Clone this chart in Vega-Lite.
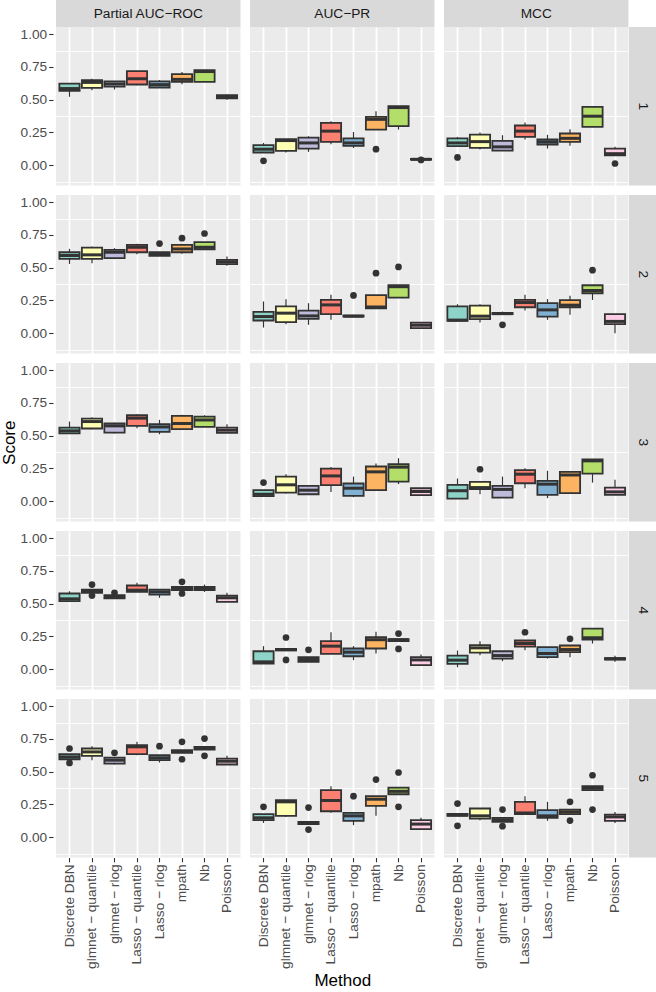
{
"$schema":"https://vega.github.io/schema/vega-lite/v6.json",
"padding":0,
"background":"white",
"config":{"font":"Liberation Sans","view":{"fill":"#EBEBEB","stroke":null},"axis":{"labelFont":"Liberation Sans","titleFont":"Liberation Sans"},"text":{"font":"Liberation Sans"}},
"datasets":{
"boxes":[
{"metric":"Partial AUC−ROC","run":1,"method":"Discrete DBN","lo":0.522,"q1":0.567,"med":0.585,"q3":0.623,"hi":0.625},
{"metric":"Partial AUC−ROC","run":1,"method":"glmnet − quantile","lo":0.573,"q1":0.59,"med":0.632,"q3":0.65,"hi":0.66},
{"metric":"Partial AUC−ROC","run":1,"method":"glmnet − rlog","lo":0.578,"q1":0.6,"med":0.62,"q3":0.64,"hi":0.641},
{"metric":"Partial AUC−ROC","run":1,"method":"Lasso − quantile","lo":0.61,"q1":0.616,"med":0.66,"q3":0.718,"hi":0.72},
{"metric":"Partial AUC−ROC","run":1,"method":"Lasso − rlog","lo":0.593,"q1":0.593,"med":0.615,"q3":0.64,"hi":0.65},
{"metric":"Partial AUC−ROC","run":1,"method":"mpath","lo":0.618,"q1":0.636,"med":0.655,"q3":0.695,"hi":0.712},
{"metric":"Partial AUC−ROC","run":1,"method":"Nb","lo":0.636,"q1":0.636,"med":0.715,"q3":0.725,"hi":0.725},
{"metric":"Partial AUC−ROC","run":1,"method":"Poisson","lo":0.5,"q1":0.51,"med":0.52,"q3":0.534,"hi":0.54},
{"metric":"AUC−PR","run":1,"method":"Discrete DBN","lo":0.097,"q1":0.097,"med":0.122,"q3":0.153,"hi":0.17},
{"metric":"AUC−PR","run":1,"method":"glmnet − quantile","lo":0.097,"q1":0.11,"med":0.188,"q3":0.198,"hi":0.2},
{"metric":"AUC−PR","run":1,"method":"glmnet − rlog","lo":0.102,"q1":0.127,"med":0.17,"q3":0.211,"hi":0.221},
{"metric":"AUC−PR","run":1,"method":"Lasso − quantile","lo":0.16,"q1":0.178,"med":0.26,"q3":0.323,"hi":0.336},
{"metric":"AUC−PR","run":1,"method":"Lasso − rlog","lo":0.132,"q1":0.148,"med":0.17,"q3":0.204,"hi":0.254},
{"metric":"AUC−PR","run":1,"method":"mpath","lo":0.272,"q1":0.272,"med":0.35,"q3":0.369,"hi":0.412},
{"metric":"AUC−PR","run":1,"method":"Nb","lo":0.272,"q1":0.298,"med":0.44,"q3":0.45,"hi":0.45},
{"metric":"AUC−PR","run":1,"method":"Poisson","lo":0.042,"q1":0.042,"med":0.045,"q3":0.048,"hi":0.048},
{"metric":"MCC","run":1,"method":"Discrete DBN","lo":0.145,"q1":0.145,"med":0.17,"q3":0.204,"hi":0.216},
{"metric":"MCC","run":1,"method":"glmnet − quantile","lo":0.12,"q1":0.132,"med":0.18,"q3":0.234,"hi":0.249},
{"metric":"MCC","run":1,"method":"glmnet − rlog","lo":0.112,"q1":0.112,"med":0.14,"q3":0.186,"hi":0.229},
{"metric":"MCC","run":1,"method":"Lasso − quantile","lo":0.196,"q1":0.216,"med":0.26,"q3":0.303,"hi":0.326},
{"metric":"MCC","run":1,"method":"Lasso − rlog","lo":0.127,"q1":0.158,"med":0.178,"q3":0.196,"hi":0.232},
{"metric":"MCC","run":1,"method":"mpath","lo":0.148,"q1":0.178,"med":0.205,"q3":0.242,"hi":0.275},
{"metric":"MCC","run":1,"method":"Nb","lo":0.293,"q1":0.293,"med":0.374,"q3":0.445,"hi":0.445},
{"metric":"MCC","run":1,"method":"Poisson","lo":0.076,"q1":0.076,"med":0.088,"q3":0.127,"hi":0.14},
{"metric":"Partial AUC−ROC","run":2,"method":"Discrete DBN","lo":0.529,"q1":0.567,"med":0.593,"q3":0.618,"hi":0.644},
{"metric":"Partial AUC−ROC","run":2,"method":"glmnet − quantile","lo":0.534,"q1":0.567,"med":0.598,"q3":0.654,"hi":0.662},
{"metric":"Partial AUC−ROC","run":2,"method":"glmnet − rlog","lo":0.565,"q1":0.573,"med":0.618,"q3":0.636,"hi":0.649},
{"metric":"Partial AUC−ROC","run":2,"method":"Lasso − quantile","lo":0.603,"q1":0.618,"med":0.656,"q3":0.674,"hi":0.682},
{"metric":"Partial AUC−ROC","run":2,"method":"Lasso − rlog","lo":0.59,"q1":0.59,"med":0.605,"q3":0.618,"hi":0.618},
{"metric":"Partial AUC−ROC","run":2,"method":"mpath","lo":0.606,"q1":0.618,"med":0.643,"q3":0.674,"hi":0.682},
{"metric":"Partial AUC−ROC","run":2,"method":"Nb","lo":0.641,"q1":0.641,"med":0.656,"q3":0.695,"hi":0.695},
{"metric":"Partial AUC−ROC","run":2,"method":"Poisson","lo":0.514,"q1":0.527,"med":0.544,"q3":0.56,"hi":0.585},
{"metric":"AUC−PR","run":2,"method":"Discrete DBN","lo":0.043,"q1":0.097,"med":0.127,"q3":0.163,"hi":0.242},
{"metric":"AUC−PR","run":2,"method":"glmnet − quantile","lo":0.069,"q1":0.084,"med":0.153,"q3":0.204,"hi":0.26},
{"metric":"AUC−PR","run":2,"method":"glmnet − rlog","lo":0.064,"q1":0.109,"med":0.132,"q3":0.173,"hi":0.229},
{"metric":"AUC−PR","run":2,"method":"Lasso − quantile","lo":0.102,"q1":0.145,"med":0.216,"q3":0.254,"hi":0.293},
{"metric":"AUC−PR","run":2,"method":"Lasso − rlog","lo":0.127,"q1":0.127,"med":0.13,"q3":0.135,"hi":0.135},
{"metric":"AUC−PR","run":2,"method":"mpath","lo":0.19,"q1":0.19,"med":0.2,"q3":0.29,"hi":0.29},
{"metric":"AUC−PR","run":2,"method":"Nb","lo":0.272,"q1":0.272,"med":0.355,"q3":0.366,"hi":0.366},
{"metric":"AUC−PR","run":2,"method":"Poisson","lo":0.038,"q1":0.038,"med":0.061,"q3":0.081,"hi":0.081},
{"metric":"MCC","run":2,"method":"Discrete DBN","lo":0.094,"q1":0.094,"med":0.1,"q3":0.204,"hi":0.221},
{"metric":"MCC","run":2,"method":"glmnet − quantile","lo":0.081,"q1":0.107,"med":0.13,"q3":0.211,"hi":0.221},
{"metric":"MCC","run":2,"method":"glmnet − rlog","lo":0.145,"q1":0.145,"med":0.15,"q3":0.155,"hi":0.165},
{"metric":"MCC","run":2,"method":"Lasso − quantile","lo":0.173,"q1":0.198,"med":0.234,"q3":0.254,"hi":0.293},
{"metric":"MCC","run":2,"method":"Lasso − rlog","lo":0.102,"q1":0.127,"med":0.178,"q3":0.229,"hi":0.26},
{"metric":"MCC","run":2,"method":"mpath","lo":0.14,"q1":0.198,"med":0.214,"q3":0.252,"hi":0.285},
{"metric":"MCC","run":2,"method":"Nb","lo":0.254,"q1":0.305,"med":0.326,"q3":0.366,"hi":0.366},
{"metric":"MCC","run":2,"method":"Poisson","lo":0.0,"q1":0.069,"med":0.09,"q3":0.145,"hi":0.145},
{"metric":"Partial AUC−ROC","run":3,"method":"Discrete DBN","lo":0.517,"q1":0.517,"med":0.537,"q3":0.562,"hi":0.608},
{"metric":"Partial AUC−ROC","run":3,"method":"glmnet − quantile","lo":0.55,"q1":0.555,"med":0.608,"q3":0.631,"hi":0.64},
{"metric":"Partial AUC−ROC","run":3,"method":"glmnet − rlog","lo":0.517,"q1":0.524,"med":0.575,"q3":0.593,"hi":0.6},
{"metric":"Partial AUC−ROC","run":3,"method":"Lasso − quantile","lo":0.557,"q1":0.575,"med":0.634,"q3":0.656,"hi":0.664},
{"metric":"Partial AUC−ROC","run":3,"method":"Lasso − rlog","lo":0.511,"q1":0.529,"med":0.567,"q3":0.588,"hi":0.621},
{"metric":"Partial AUC−ROC","run":3,"method":"mpath","lo":0.55,"q1":0.55,"med":0.593,"q3":0.651,"hi":0.659},
{"metric":"Partial AUC−ROC","run":3,"method":"Nb","lo":0.567,"q1":0.567,"med":0.62,"q3":0.646,"hi":0.656},
{"metric":"Partial AUC−ROC","run":3,"method":"Poisson","lo":0.522,"q1":0.522,"med":0.542,"q3":0.562,"hi":0.588},
{"metric":"AUC−PR","run":3,"method":"Discrete DBN","lo":0.038,"q1":0.038,"med":0.053,"q3":0.084,"hi":0.084},
{"metric":"AUC−PR","run":3,"method":"glmnet − quantile","lo":0.058,"q1":0.066,"med":0.125,"q3":0.188,"hi":0.206},
{"metric":"AUC−PR","run":3,"method":"glmnet − rlog","lo":0.053,"q1":0.053,"med":0.084,"q3":0.117,"hi":0.117},
{"metric":"AUC−PR","run":3,"method":"Lasso − quantile","lo":0.071,"q1":0.122,"med":0.193,"q3":0.249,"hi":0.262},
{"metric":"AUC−PR","run":3,"method":"Lasso − rlog","lo":0.03,"q1":0.041,"med":0.099,"q3":0.135,"hi":0.188},
{"metric":"AUC−PR","run":3,"method":"mpath","lo":0.084,"q1":0.084,"med":0.224,"q3":0.265,"hi":0.288},
{"metric":"AUC−PR","run":3,"method":"Nb","lo":0.13,"q1":0.15,"med":0.26,"q3":0.282,"hi":0.328},
{"metric":"AUC−PR","run":3,"method":"Poisson","lo":0.046,"q1":0.046,"med":0.074,"q3":0.099,"hi":0.099},
{"metric":"MCC","run":3,"method":"Discrete DBN","lo":0.02,"q1":0.02,"med":0.08,"q3":0.125,"hi":0.173},
{"metric":"MCC","run":3,"method":"glmnet − quantile","lo":0.053,"q1":0.092,"med":0.104,"q3":0.148,"hi":0.148},
{"metric":"MCC","run":3,"method":"glmnet − rlog","lo":0.028,"q1":0.028,"med":0.09,"q3":0.117,"hi":0.188},
{"metric":"MCC","run":3,"method":"Lasso − quantile","lo":0.099,"q1":0.137,"med":0.206,"q3":0.237,"hi":0.252},
{"metric":"MCC","run":3,"method":"Lasso − rlog","lo":0.023,"q1":0.048,"med":0.13,"q3":0.155,"hi":0.232},
{"metric":"MCC","run":3,"method":"mpath","lo":0.061,"q1":0.061,"med":0.2,"q3":0.224,"hi":0.224},
{"metric":"MCC","run":3,"method":"Nb","lo":0.142,"q1":0.211,"med":0.308,"q3":0.32,"hi":0.32},
{"metric":"MCC","run":3,"method":"Poisson","lo":0.048,"q1":0.048,"med":0.071,"q3":0.104,"hi":0.163},
{"metric":"Partial AUC−ROC","run":4,"method":"Discrete DBN","lo":0.519,"q1":0.519,"med":0.537,"q3":0.578,"hi":0.595},
{"metric":"Partial AUC−ROC","run":4,"method":"glmnet − quantile","lo":0.583,"q1":0.583,"med":0.595,"q3":0.608,"hi":0.608},
{"metric":"Partial AUC−ROC","run":4,"method":"glmnet − rlog","lo":0.54,"q1":0.54,"med":0.55,"q3":0.565,"hi":0.565},
{"metric":"Partial AUC−ROC","run":4,"method":"Lasso − quantile","lo":0.59,"q1":0.59,"med":0.603,"q3":0.639,"hi":0.659},
{"metric":"Partial AUC−ROC","run":4,"method":"Lasso − rlog","lo":0.545,"q1":0.57,"med":0.59,"q3":0.608,"hi":0.608},
{"metric":"Partial AUC−ROC","run":4,"method":"mpath","lo":0.603,"q1":0.603,"med":0.616,"q3":0.628,"hi":0.628},
{"metric":"Partial AUC−ROC","run":4,"method":"Nb","lo":0.59,"q1":0.603,"med":0.616,"q3":0.628,"hi":0.646},
{"metric":"Partial AUC−ROC","run":4,"method":"Poisson","lo":0.514,"q1":0.514,"med":0.545,"q3":0.562,"hi":0.583},
{"metric":"AUC−PR","run":4,"method":"Discrete DBN","lo":0.043,"q1":0.043,"med":0.056,"q3":0.137,"hi":0.176},
{"metric":"AUC−PR","run":4,"method":"glmnet − quantile","lo":0.143,"q1":0.143,"med":0.15,"q3":0.155,"hi":0.155},
{"metric":"AUC−PR","run":4,"method":"glmnet − rlog","lo":0.056,"q1":0.056,"med":0.074,"q3":0.092,"hi":0.092},
{"metric":"AUC−PR","run":4,"method":"Lasso − quantile","lo":0.117,"q1":0.117,"med":0.176,"q3":0.214,"hi":0.282},
{"metric":"AUC−PR","run":4,"method":"Lasso − rlog","lo":0.069,"q1":0.099,"med":0.13,"q3":0.158,"hi":0.176},
{"metric":"AUC−PR","run":4,"method":"mpath","lo":0.12,"q1":0.158,"med":0.225,"q3":0.244,"hi":0.285},
{"metric":"AUC−PR","run":4,"method":"Nb","lo":0.214,"q1":0.214,"med":0.224,"q3":0.229,"hi":0.229},
{"metric":"AUC−PR","run":4,"method":"Poisson","lo":0.031,"q1":0.031,"med":0.071,"q3":0.092,"hi":0.112},
{"metric":"MCC","run":4,"method":"Discrete DBN","lo":0.015,"q1":0.041,"med":0.069,"q3":0.104,"hi":0.142},
{"metric":"MCC","run":4,"method":"glmnet − quantile","lo":0.107,"q1":0.127,"med":0.163,"q3":0.183,"hi":0.214},
{"metric":"MCC","run":4,"method":"glmnet − rlog","lo":0.061,"q1":0.081,"med":0.104,"q3":0.137,"hi":0.137},
{"metric":"MCC","run":4,"method":"Lasso − quantile","lo":0.145,"q1":0.173,"med":0.196,"q3":0.219,"hi":0.219},
{"metric":"MCC","run":4,"method":"Lasso − rlog","lo":0.081,"q1":0.092,"med":0.12,"q3":0.168,"hi":0.168},
{"metric":"MCC","run":4,"method":"mpath","lo":0.092,"q1":0.13,"med":0.15,"q3":0.181,"hi":0.181},
{"metric":"MCC","run":4,"method":"Nb","lo":0.196,"q1":0.226,"med":0.24,"q3":0.31,"hi":0.31},
{"metric":"MCC","run":4,"method":"Poisson","lo":0.056,"q1":0.074,"med":0.079,"q3":0.085,"hi":0.102},
{"metric":"Partial AUC−ROC","run":5,"method":"Discrete DBN","lo":0.595,"q1":0.595,"med":0.613,"q3":0.634,"hi":0.634},
{"metric":"Partial AUC−ROC","run":5,"method":"glmnet − quantile","lo":0.588,"q1":0.621,"med":0.651,"q3":0.677,"hi":0.695},
{"metric":"Partial AUC−ROC","run":5,"method":"glmnet − rlog","lo":0.555,"q1":0.562,"med":0.588,"q3":0.608,"hi":0.608},
{"metric":"Partial AUC−ROC","run":5,"method":"Lasso − quantile","lo":0.626,"q1":0.634,"med":0.69,"q3":0.702,"hi":0.728},
{"metric":"Partial AUC−ROC","run":5,"method":"Lasso − rlog","lo":0.57,"q1":0.588,"med":0.606,"q3":0.626,"hi":0.626},
{"metric":"Partial AUC−ROC","run":5,"method":"mpath","lo":0.644,"q1":0.644,"med":0.654,"q3":0.664,"hi":0.664},
{"metric":"Partial AUC−ROC","run":5,"method":"Nb","lo":0.669,"q1":0.669,"med":0.679,"q3":0.69,"hi":0.69},
{"metric":"Partial AUC−ROC","run":5,"method":"Poisson","lo":0.555,"q1":0.555,"med":0.58,"q3":0.6,"hi":0.621},
{"metric":"AUC−PR","run":5,"method":"Discrete DBN","lo":0.109,"q1":0.13,"med":0.148,"q3":0.176,"hi":0.176},
{"metric":"AUC−PR","run":5,"method":"glmnet − quantile","lo":0.155,"q1":0.163,"med":0.27,"q3":0.282,"hi":0.282},
{"metric":"AUC−PR","run":5,"method":"glmnet − rlog","lo":0.1,"q1":0.1,"med":0.109,"q3":0.117,"hi":0.117},
{"metric":"AUC−PR","run":5,"method":"Lasso − quantile","lo":0.186,"q1":0.198,"med":0.28,"q3":0.359,"hi":0.389},
{"metric":"AUC−PR","run":5,"method":"Lasso − rlog","lo":0.092,"q1":0.125,"med":0.163,"q3":0.186,"hi":0.186},
{"metric":"AUC−PR","run":5,"method":"mpath","lo":0.163,"q1":0.239,"med":0.29,"q3":0.313,"hi":0.313},
{"metric":"AUC−PR","run":5,"method":"Nb","lo":0.328,"q1":0.328,"med":0.35,"q3":0.379,"hi":0.379},
{"metric":"AUC−PR","run":5,"method":"Poisson","lo":0.061,"q1":0.061,"med":0.1,"q3":0.13,"hi":0.148},
{"metric":"MCC","run":5,"method":"Discrete DBN","lo":0.163,"q1":0.163,"med":0.17,"q3":0.178,"hi":0.178},
{"metric":"MCC","run":5,"method":"glmnet − quantile","lo":0.13,"q1":0.142,"med":0.163,"q3":0.219,"hi":0.219},
{"metric":"MCC","run":5,"method":"glmnet − rlog","lo":0.117,"q1":0.117,"med":0.132,"q3":0.148,"hi":0.148},
{"metric":"MCC","run":5,"method":"Lasso − quantile","lo":0.176,"q1":0.176,"med":0.185,"q3":0.27,"hi":0.313},
{"metric":"MCC","run":5,"method":"Lasso − rlog","lo":0.125,"q1":0.148,"med":0.163,"q3":0.206,"hi":0.27},
{"metric":"MCC","run":5,"method":"mpath","lo":0.176,"q1":0.176,"med":0.193,"q3":0.211,"hi":0.211},
{"metric":"MCC","run":5,"method":"Nb","lo":0.359,"q1":0.359,"med":0.375,"q3":0.389,"hi":0.389},
{"metric":"MCC","run":5,"method":"Poisson","lo":0.109,"q1":0.125,"med":0.155,"q3":0.173,"hi":0.193}
],
"outliers":[
{"metric":"AUC−PR","run":1,"method":"Discrete DBN","value":0.033},
{"metric":"AUC−PR","run":1,"method":"mpath","value":0.122},
{"metric":"AUC−PR","run":1,"method":"Poisson","value":0.04},
{"metric":"MCC","run":1,"method":"Discrete DBN","value":0.059},
{"metric":"MCC","run":1,"method":"Poisson","value":0.013},
{"metric":"Partial AUC−ROC","run":2,"method":"Lasso − rlog","value":0.684},
{"metric":"Partial AUC−ROC","run":2,"method":"mpath","value":0.725},
{"metric":"Partial AUC−ROC","run":2,"method":"Nb","value":0.761},
{"metric":"AUC−PR","run":2,"method":"Lasso − rlog","value":0.288},
{"metric":"AUC−PR","run":2,"method":"mpath","value":0.458},
{"metric":"AUC−PR","run":2,"method":"Nb","value":0.506},
{"metric":"MCC","run":2,"method":"glmnet − rlog","value":0.064},
{"metric":"MCC","run":2,"method":"Nb","value":0.481},
{"metric":"AUC−PR","run":3,"method":"Discrete DBN","value":0.142},
{"metric":"MCC","run":3,"method":"glmnet − quantile","value":0.244},
{"metric":"Partial AUC−ROC","run":4,"method":"glmnet − quantile","value":0.646},
{"metric":"Partial AUC−ROC","run":4,"method":"glmnet − quantile","value":0.562},
{"metric":"Partial AUC−ROC","run":4,"method":"glmnet − rlog","value":0.583},
{"metric":"Partial AUC−ROC","run":4,"method":"mpath","value":0.667},
{"metric":"Partial AUC−ROC","run":4,"method":"mpath","value":0.578},
{"metric":"AUC−PR","run":4,"method":"glmnet − quantile","value":0.242},
{"metric":"AUC−PR","run":4,"method":"glmnet − quantile","value":0.071},
{"metric":"AUC−PR","run":4,"method":"glmnet − rlog","value":0.148},
{"metric":"AUC−PR","run":4,"method":"Nb","value":0.272},
{"metric":"AUC−PR","run":4,"method":"Nb","value":0.155},
{"metric":"MCC","run":4,"method":"Lasso − quantile","value":0.282},
{"metric":"MCC","run":4,"method":"mpath","value":0.232},
{"metric":"Partial AUC−ROC","run":5,"method":"Discrete DBN","value":0.677},
{"metric":"Partial AUC−ROC","run":5,"method":"Discrete DBN","value":0.567},
{"metric":"Partial AUC−ROC","run":5,"method":"glmnet − rlog","value":0.644},
{"metric":"Partial AUC−ROC","run":5,"method":"Lasso − rlog","value":0.695},
{"metric":"Partial AUC−ROC","run":5,"method":"mpath","value":0.728},
{"metric":"Partial AUC−ROC","run":5,"method":"mpath","value":0.595},
{"metric":"Partial AUC−ROC","run":5,"method":"Nb","value":0.753},
{"metric":"Partial AUC−ROC","run":5,"method":"Nb","value":0.621},
{"metric":"AUC−PR","run":5,"method":"Discrete DBN","value":0.232},
{"metric":"AUC−PR","run":5,"method":"glmnet − rlog","value":0.226},
{"metric":"AUC−PR","run":5,"method":"glmnet − rlog","value":0.058},
{"metric":"AUC−PR","run":5,"method":"Lasso − rlog","value":0.313},
{"metric":"AUC−PR","run":5,"method":"mpath","value":0.44},
{"metric":"AUC−PR","run":5,"method":"Nb","value":0.494},
{"metric":"AUC−PR","run":5,"method":"Nb","value":0.232},
{"metric":"MCC","run":5,"method":"Discrete DBN","value":0.257},
{"metric":"MCC","run":5,"method":"Discrete DBN","value":0.087},
{"metric":"MCC","run":5,"method":"glmnet − rlog","value":0.211},
{"metric":"MCC","run":5,"method":"glmnet − rlog","value":0.084},
{"metric":"MCC","run":5,"method":"mpath","value":0.27},
{"metric":"MCC","run":5,"method":"mpath","value":0.127},
{"metric":"MCC","run":5,"method":"Nb","value":0.473},
{"metric":"MCC","run":5,"method":"Nb","value":0.211}
]
},
"spacing":0,
"hconcat":[
{"spacing":0,"vconcat":[
 {"width":1,"height":27,"view":{"fill":"#FFFFFF","stroke":null},"data":{"values":[{"label":""}]},"mark":{"type":"text"},"encoding":{"text":{"field":"label","type":"nominal"}}},
 {"spacing":9,"vconcat":[
  {"width":1,"height":158.5,"view":{"fill":"#FFFFFF","stroke":null},"data":{"name":"boxes"},"transform":[{"filter":"datum.metric=='Partial AUC−ROC' && datum.run==1"}],"mark":{"type":"point","opacity":0},"encoding":{"y":{"field":"med","type":"quantitative","scale":{"domain":[-0.155,1.055],"nice":false,"zero":false},"title":"Score","axis":{"values":[0,0.25,0.5,0.75,1],"format":".2f","grid":false,"domain":false,"offset":-1,"tickSize":4.3,"tickWidth":1.1,"tickColor":"#333333","labelPadding":2,"labelColor":"#4D4D4D","labelFontSize":13.7,"titleFontSize":17,"titleFontWeight":"normal","titleColor":"#000000","titlePadding":2,"titleOpacity":0}}}},
  {"width":1,"height":158.5,"view":{"fill":"#FFFFFF","stroke":null},"data":{"name":"boxes"},"transform":[{"filter":"datum.metric=='Partial AUC−ROC' && datum.run==2"}],"mark":{"type":"point","opacity":0},"encoding":{"y":{"field":"med","type":"quantitative","scale":{"domain":[-0.155,1.055],"nice":false,"zero":false},"title":"Score","axis":{"values":[0,0.25,0.5,0.75,1],"format":".2f","grid":false,"domain":false,"offset":-1,"tickSize":4.3,"tickWidth":1.1,"tickColor":"#333333","labelPadding":2,"labelColor":"#4D4D4D","labelFontSize":13.7,"titleFontSize":17,"titleFontWeight":"normal","titleColor":"#000000","titlePadding":2,"titleOpacity":0}}}},
  {"width":1,"height":158.5,"view":{"fill":"#FFFFFF","stroke":null},"data":{"name":"boxes"},"transform":[{"filter":"datum.metric=='Partial AUC−ROC' && datum.run==3"}],"mark":{"type":"point","opacity":0},"encoding":{"y":{"field":"med","type":"quantitative","scale":{"domain":[-0.155,1.055],"nice":false,"zero":false},"title":"Score","axis":{"values":[0,0.25,0.5,0.75,1],"format":".2f","grid":false,"domain":false,"offset":-1,"tickSize":4.3,"tickWidth":1.1,"tickColor":"#333333","labelPadding":2,"labelColor":"#4D4D4D","labelFontSize":13.7,"titleFontSize":17,"titleFontWeight":"normal","titleColor":"#000000","titlePadding":2,"titleOpacity":1}}}},
  {"width":1,"height":158.5,"view":{"fill":"#FFFFFF","stroke":null},"data":{"name":"boxes"},"transform":[{"filter":"datum.metric=='Partial AUC−ROC' && datum.run==4"}],"mark":{"type":"point","opacity":0},"encoding":{"y":{"field":"med","type":"quantitative","scale":{"domain":[-0.155,1.055],"nice":false,"zero":false},"title":"Score","axis":{"values":[0,0.25,0.5,0.75,1],"format":".2f","grid":false,"domain":false,"offset":-1,"tickSize":4.3,"tickWidth":1.1,"tickColor":"#333333","labelPadding":2,"labelColor":"#4D4D4D","labelFontSize":13.7,"titleFontSize":17,"titleFontWeight":"normal","titleColor":"#000000","titlePadding":2,"titleOpacity":0}}}},
  {"width":1,"height":158.5,"view":{"fill":"#FFFFFF","stroke":null},"data":{"name":"boxes"},"transform":[{"filter":"datum.metric=='Partial AUC−ROC' && datum.run==5"}],"mark":{"type":"point","opacity":0},"encoding":{"y":{"field":"med","type":"quantitative","scale":{"domain":[-0.155,1.055],"nice":false,"zero":false},"title":"Score","axis":{"values":[0,0.25,0.5,0.75,1],"format":".2f","grid":false,"domain":false,"offset":-1,"tickSize":4.3,"tickWidth":1.1,"tickColor":"#333333","labelPadding":2,"labelColor":"#4D4D4D","labelFontSize":13.7,"titleFontSize":17,"titleFontWeight":"normal","titleColor":"#000000","titlePadding":2,"titleOpacity":0}}}}
 ]}
]},
{"spacing":9,"hconcat":[
 {"spacing":0,"vconcat":[
  {"width":184.5,"height":27,"view":{"fill":"#D9D9D9","stroke":null},"data":{"values":[{"label":"Partial AUC−ROC"}]},"mark":{"type":"text","fontSize":13.7,"color":"#1A1A1A"},"encoding":{"text":{"field":"label","type":"nominal"}}},
  {"spacing":9,"vconcat":[
   {"width":184.5,"height":158.5,"data":{"name":"boxes"},"transform":[{"filter":"datum.metric=='Partial AUC−ROC' && datum.run==1"}],
    "encoding":{"x":{"field":"method","type":"nominal","title":null,"scale":{"domain":["Discrete DBN","glmnet − quantile","glmnet − rlog","Lasso − quantile","Lasso − rlog","mpath","Nb","Poisson"],"paddingInner":0.1,"paddingOuter":0.15},"axis":{"labels":false,"ticks":false,"domain":false,"grid":true,"gridColor":"#FFFFFF","gridWidth":1.8,"bandPosition":0.5}}},
    "layer":[
     {"mark":{"type":"rule","color":"#333333","strokeWidth":1.2},"encoding":{"y":{"field":"lo","type":"quantitative","title":null,"scale":{"domain":[-0.155,1.055],"nice":false,"zero":false},"axis":{"values":[-0.125,0,0.125,0.25,0.375,0.5,0.625,0.75,0.875,1],"labels":false,"ticks":false,"domain":false,"grid":true,"gridColor":"#FFFFFF","gridWidth":{"condition":{"test":"abs(datum.value*4-round(datum.value*4))>0.01","value":0.9},"value":1.8}}},"y2":{"field":"hi"}}},
     {"mark":{"type":"bar","stroke":"#333333","strokeWidth":1.8},"encoding":{"y":{"field":"q1","type":"quantitative","title":null,"scale":{"domain":[-0.155,1.055],"nice":false,"zero":false}},"y2":{"field":"q3"},"fill":{"field":"method","type":"nominal","legend":null,"scale":{"domain":["Discrete DBN","glmnet − quantile","glmnet − rlog","Lasso − quantile","Lasso − rlog","mpath","Nb","Poisson"],"range":["#8DD3C7","#FFFFB3","#BEBADA","#FB8072","#80B1D3","#FDB462","#B3DE69","#FCCDE5"]}}}},
     {"mark":{"type":"tick","color":"#333333","thickness":3,"opacity":1},"encoding":{"y":{"field":"med","type":"quantitative","title":null,"scale":{"domain":[-0.155,1.055],"nice":false,"zero":false}},"size":{"value":20}}},
     {"data":{"name":"outliers"},"transform":[{"filter":"datum.metric=='Partial AUC−ROC' && datum.run==1"}],"mark":{"type":"point","filled":true,"color":"#333333","opacity":1,"size":45},"encoding":{"y":{"field":"value","type":"quantitative","title":null,"scale":{"domain":[-0.155,1.055],"nice":false,"zero":false}}}}
    ]},
   {"width":184.5,"height":158.5,"data":{"name":"boxes"},"transform":[{"filter":"datum.metric=='Partial AUC−ROC' && datum.run==2"}],
    "encoding":{"x":{"field":"method","type":"nominal","title":null,"scale":{"domain":["Discrete DBN","glmnet − quantile","glmnet − rlog","Lasso − quantile","Lasso − rlog","mpath","Nb","Poisson"],"paddingInner":0.1,"paddingOuter":0.15},"axis":{"labels":false,"ticks":false,"domain":false,"grid":true,"gridColor":"#FFFFFF","gridWidth":1.8,"bandPosition":0.5}}},
    "layer":[
     {"mark":{"type":"rule","color":"#333333","strokeWidth":1.2},"encoding":{"y":{"field":"lo","type":"quantitative","title":null,"scale":{"domain":[-0.155,1.055],"nice":false,"zero":false},"axis":{"values":[-0.125,0,0.125,0.25,0.375,0.5,0.625,0.75,0.875,1],"labels":false,"ticks":false,"domain":false,"grid":true,"gridColor":"#FFFFFF","gridWidth":{"condition":{"test":"abs(datum.value*4-round(datum.value*4))>0.01","value":0.9},"value":1.8}}},"y2":{"field":"hi"}}},
     {"mark":{"type":"bar","stroke":"#333333","strokeWidth":1.8},"encoding":{"y":{"field":"q1","type":"quantitative","title":null,"scale":{"domain":[-0.155,1.055],"nice":false,"zero":false}},"y2":{"field":"q3"},"fill":{"field":"method","type":"nominal","legend":null,"scale":{"domain":["Discrete DBN","glmnet − quantile","glmnet − rlog","Lasso − quantile","Lasso − rlog","mpath","Nb","Poisson"],"range":["#8DD3C7","#FFFFB3","#BEBADA","#FB8072","#80B1D3","#FDB462","#B3DE69","#FCCDE5"]}}}},
     {"mark":{"type":"tick","color":"#333333","thickness":3,"opacity":1},"encoding":{"y":{"field":"med","type":"quantitative","title":null,"scale":{"domain":[-0.155,1.055],"nice":false,"zero":false}},"size":{"value":20}}},
     {"data":{"name":"outliers"},"transform":[{"filter":"datum.metric=='Partial AUC−ROC' && datum.run==2"}],"mark":{"type":"point","filled":true,"color":"#333333","opacity":1,"size":45},"encoding":{"y":{"field":"value","type":"quantitative","title":null,"scale":{"domain":[-0.155,1.055],"nice":false,"zero":false}}}}
    ]},
   {"width":184.5,"height":158.5,"data":{"name":"boxes"},"transform":[{"filter":"datum.metric=='Partial AUC−ROC' && datum.run==3"}],
    "encoding":{"x":{"field":"method","type":"nominal","title":null,"scale":{"domain":["Discrete DBN","glmnet − quantile","glmnet − rlog","Lasso − quantile","Lasso − rlog","mpath","Nb","Poisson"],"paddingInner":0.1,"paddingOuter":0.15},"axis":{"labels":false,"ticks":false,"domain":false,"grid":true,"gridColor":"#FFFFFF","gridWidth":1.8,"bandPosition":0.5}}},
    "layer":[
     {"mark":{"type":"rule","color":"#333333","strokeWidth":1.2},"encoding":{"y":{"field":"lo","type":"quantitative","title":null,"scale":{"domain":[-0.155,1.055],"nice":false,"zero":false},"axis":{"values":[-0.125,0,0.125,0.25,0.375,0.5,0.625,0.75,0.875,1],"labels":false,"ticks":false,"domain":false,"grid":true,"gridColor":"#FFFFFF","gridWidth":{"condition":{"test":"abs(datum.value*4-round(datum.value*4))>0.01","value":0.9},"value":1.8}}},"y2":{"field":"hi"}}},
     {"mark":{"type":"bar","stroke":"#333333","strokeWidth":1.8},"encoding":{"y":{"field":"q1","type":"quantitative","title":null,"scale":{"domain":[-0.155,1.055],"nice":false,"zero":false}},"y2":{"field":"q3"},"fill":{"field":"method","type":"nominal","legend":null,"scale":{"domain":["Discrete DBN","glmnet − quantile","glmnet − rlog","Lasso − quantile","Lasso − rlog","mpath","Nb","Poisson"],"range":["#8DD3C7","#FFFFB3","#BEBADA","#FB8072","#80B1D3","#FDB462","#B3DE69","#FCCDE5"]}}}},
     {"mark":{"type":"tick","color":"#333333","thickness":3,"opacity":1},"encoding":{"y":{"field":"med","type":"quantitative","title":null,"scale":{"domain":[-0.155,1.055],"nice":false,"zero":false}},"size":{"value":20}}},
     {"data":{"name":"outliers"},"transform":[{"filter":"datum.metric=='Partial AUC−ROC' && datum.run==3"}],"mark":{"type":"point","filled":true,"color":"#333333","opacity":1,"size":45},"encoding":{"y":{"field":"value","type":"quantitative","title":null,"scale":{"domain":[-0.155,1.055],"nice":false,"zero":false}}}}
    ]},
   {"width":184.5,"height":158.5,"data":{"name":"boxes"},"transform":[{"filter":"datum.metric=='Partial AUC−ROC' && datum.run==4"}],
    "encoding":{"x":{"field":"method","type":"nominal","title":null,"scale":{"domain":["Discrete DBN","glmnet − quantile","glmnet − rlog","Lasso − quantile","Lasso − rlog","mpath","Nb","Poisson"],"paddingInner":0.1,"paddingOuter":0.15},"axis":{"labels":false,"ticks":false,"domain":false,"grid":true,"gridColor":"#FFFFFF","gridWidth":1.8,"bandPosition":0.5}}},
    "layer":[
     {"mark":{"type":"rule","color":"#333333","strokeWidth":1.2},"encoding":{"y":{"field":"lo","type":"quantitative","title":null,"scale":{"domain":[-0.155,1.055],"nice":false,"zero":false},"axis":{"values":[-0.125,0,0.125,0.25,0.375,0.5,0.625,0.75,0.875,1],"labels":false,"ticks":false,"domain":false,"grid":true,"gridColor":"#FFFFFF","gridWidth":{"condition":{"test":"abs(datum.value*4-round(datum.value*4))>0.01","value":0.9},"value":1.8}}},"y2":{"field":"hi"}}},
     {"mark":{"type":"bar","stroke":"#333333","strokeWidth":1.8},"encoding":{"y":{"field":"q1","type":"quantitative","title":null,"scale":{"domain":[-0.155,1.055],"nice":false,"zero":false}},"y2":{"field":"q3"},"fill":{"field":"method","type":"nominal","legend":null,"scale":{"domain":["Discrete DBN","glmnet − quantile","glmnet − rlog","Lasso − quantile","Lasso − rlog","mpath","Nb","Poisson"],"range":["#8DD3C7","#FFFFB3","#BEBADA","#FB8072","#80B1D3","#FDB462","#B3DE69","#FCCDE5"]}}}},
     {"mark":{"type":"tick","color":"#333333","thickness":3,"opacity":1},"encoding":{"y":{"field":"med","type":"quantitative","title":null,"scale":{"domain":[-0.155,1.055],"nice":false,"zero":false}},"size":{"value":20}}},
     {"data":{"name":"outliers"},"transform":[{"filter":"datum.metric=='Partial AUC−ROC' && datum.run==4"}],"mark":{"type":"point","filled":true,"color":"#333333","opacity":1,"size":45},"encoding":{"y":{"field":"value","type":"quantitative","title":null,"scale":{"domain":[-0.155,1.055],"nice":false,"zero":false}}}}
    ]},
   {"width":184.5,"height":158.5,"data":{"name":"boxes"},"transform":[{"filter":"datum.metric=='Partial AUC−ROC' && datum.run==5"}],
    "encoding":{"x":{"field":"method","type":"nominal","title":null,"scale":{"domain":["Discrete DBN","glmnet − quantile","glmnet − rlog","Lasso − quantile","Lasso − rlog","mpath","Nb","Poisson"],"paddingInner":0.1,"paddingOuter":0.15},"axis":{"labelAngle":270,"labelAlign":"right","labelBaseline":"middle","labelPadding":2,"labelColor":"#4D4D4D","labelFontSize":13.7,"labelOverlap":false,"labelLimit":300,"ticks":true,"tickSize":4.3,"tickWidth":1.1,"tickColor":"#333333","domain":false,"grid":true,"gridColor":"#FFFFFF","gridWidth":1.8,"bandPosition":0.5,"titleFontSize":17,"titleFontWeight":"normal","titleColor":"#000000","titlePadding":4}}},
    "layer":[
     {"mark":{"type":"rule","color":"#333333","strokeWidth":1.2},"encoding":{"y":{"field":"lo","type":"quantitative","title":null,"scale":{"domain":[-0.155,1.055],"nice":false,"zero":false},"axis":{"values":[-0.125,0,0.125,0.25,0.375,0.5,0.625,0.75,0.875,1],"labels":false,"ticks":false,"domain":false,"grid":true,"gridColor":"#FFFFFF","gridWidth":{"condition":{"test":"abs(datum.value*4-round(datum.value*4))>0.01","value":0.9},"value":1.8}}},"y2":{"field":"hi"}}},
     {"mark":{"type":"bar","stroke":"#333333","strokeWidth":1.8},"encoding":{"y":{"field":"q1","type":"quantitative","title":null,"scale":{"domain":[-0.155,1.055],"nice":false,"zero":false}},"y2":{"field":"q3"},"fill":{"field":"method","type":"nominal","legend":null,"scale":{"domain":["Discrete DBN","glmnet − quantile","glmnet − rlog","Lasso − quantile","Lasso − rlog","mpath","Nb","Poisson"],"range":["#8DD3C7","#FFFFB3","#BEBADA","#FB8072","#80B1D3","#FDB462","#B3DE69","#FCCDE5"]}}}},
     {"mark":{"type":"tick","color":"#333333","thickness":3,"opacity":1},"encoding":{"y":{"field":"med","type":"quantitative","title":null,"scale":{"domain":[-0.155,1.055],"nice":false,"zero":false}},"size":{"value":20}}},
     {"data":{"name":"outliers"},"transform":[{"filter":"datum.metric=='Partial AUC−ROC' && datum.run==5"}],"mark":{"type":"point","filled":true,"color":"#333333","opacity":1,"size":45},"encoding":{"y":{"field":"value","type":"quantitative","title":null,"scale":{"domain":[-0.155,1.055],"nice":false,"zero":false}}}}
    ]}
  ]}
 ]},
 {"spacing":0,"vconcat":[
  {"width":184.5,"height":27,"view":{"fill":"#D9D9D9","stroke":null},"data":{"values":[{"label":"AUC−PR"}]},"mark":{"type":"text","fontSize":13.7,"color":"#1A1A1A"},"encoding":{"text":{"field":"label","type":"nominal"}}},
  {"spacing":9,"vconcat":[
   {"width":184.5,"height":158.5,"data":{"name":"boxes"},"transform":[{"filter":"datum.metric=='AUC−PR' && datum.run==1"}],
    "encoding":{"x":{"field":"method","type":"nominal","title":null,"scale":{"domain":["Discrete DBN","glmnet − quantile","glmnet − rlog","Lasso − quantile","Lasso − rlog","mpath","Nb","Poisson"],"paddingInner":0.1,"paddingOuter":0.15},"axis":{"labels":false,"ticks":false,"domain":false,"grid":true,"gridColor":"#FFFFFF","gridWidth":1.8,"bandPosition":0.5}}},
    "layer":[
     {"mark":{"type":"rule","color":"#333333","strokeWidth":1.2},"encoding":{"y":{"field":"lo","type":"quantitative","title":null,"scale":{"domain":[-0.155,1.055],"nice":false,"zero":false},"axis":{"values":[-0.125,0,0.125,0.25,0.375,0.5,0.625,0.75,0.875,1],"labels":false,"ticks":false,"domain":false,"grid":true,"gridColor":"#FFFFFF","gridWidth":{"condition":{"test":"abs(datum.value*4-round(datum.value*4))>0.01","value":0.9},"value":1.8}}},"y2":{"field":"hi"}}},
     {"mark":{"type":"bar","stroke":"#333333","strokeWidth":1.8},"encoding":{"y":{"field":"q1","type":"quantitative","title":null,"scale":{"domain":[-0.155,1.055],"nice":false,"zero":false}},"y2":{"field":"q3"},"fill":{"field":"method","type":"nominal","legend":null,"scale":{"domain":["Discrete DBN","glmnet − quantile","glmnet − rlog","Lasso − quantile","Lasso − rlog","mpath","Nb","Poisson"],"range":["#8DD3C7","#FFFFB3","#BEBADA","#FB8072","#80B1D3","#FDB462","#B3DE69","#FCCDE5"]}}}},
     {"mark":{"type":"tick","color":"#333333","thickness":3,"opacity":1},"encoding":{"y":{"field":"med","type":"quantitative","title":null,"scale":{"domain":[-0.155,1.055],"nice":false,"zero":false}},"size":{"value":20}}},
     {"data":{"name":"outliers"},"transform":[{"filter":"datum.metric=='AUC−PR' && datum.run==1"}],"mark":{"type":"point","filled":true,"color":"#333333","opacity":1,"size":45},"encoding":{"y":{"field":"value","type":"quantitative","title":null,"scale":{"domain":[-0.155,1.055],"nice":false,"zero":false}}}}
    ]},
   {"width":184.5,"height":158.5,"data":{"name":"boxes"},"transform":[{"filter":"datum.metric=='AUC−PR' && datum.run==2"}],
    "encoding":{"x":{"field":"method","type":"nominal","title":null,"scale":{"domain":["Discrete DBN","glmnet − quantile","glmnet − rlog","Lasso − quantile","Lasso − rlog","mpath","Nb","Poisson"],"paddingInner":0.1,"paddingOuter":0.15},"axis":{"labels":false,"ticks":false,"domain":false,"grid":true,"gridColor":"#FFFFFF","gridWidth":1.8,"bandPosition":0.5}}},
    "layer":[
     {"mark":{"type":"rule","color":"#333333","strokeWidth":1.2},"encoding":{"y":{"field":"lo","type":"quantitative","title":null,"scale":{"domain":[-0.155,1.055],"nice":false,"zero":false},"axis":{"values":[-0.125,0,0.125,0.25,0.375,0.5,0.625,0.75,0.875,1],"labels":false,"ticks":false,"domain":false,"grid":true,"gridColor":"#FFFFFF","gridWidth":{"condition":{"test":"abs(datum.value*4-round(datum.value*4))>0.01","value":0.9},"value":1.8}}},"y2":{"field":"hi"}}},
     {"mark":{"type":"bar","stroke":"#333333","strokeWidth":1.8},"encoding":{"y":{"field":"q1","type":"quantitative","title":null,"scale":{"domain":[-0.155,1.055],"nice":false,"zero":false}},"y2":{"field":"q3"},"fill":{"field":"method","type":"nominal","legend":null,"scale":{"domain":["Discrete DBN","glmnet − quantile","glmnet − rlog","Lasso − quantile","Lasso − rlog","mpath","Nb","Poisson"],"range":["#8DD3C7","#FFFFB3","#BEBADA","#FB8072","#80B1D3","#FDB462","#B3DE69","#FCCDE5"]}}}},
     {"mark":{"type":"tick","color":"#333333","thickness":3,"opacity":1},"encoding":{"y":{"field":"med","type":"quantitative","title":null,"scale":{"domain":[-0.155,1.055],"nice":false,"zero":false}},"size":{"value":20}}},
     {"data":{"name":"outliers"},"transform":[{"filter":"datum.metric=='AUC−PR' && datum.run==2"}],"mark":{"type":"point","filled":true,"color":"#333333","opacity":1,"size":45},"encoding":{"y":{"field":"value","type":"quantitative","title":null,"scale":{"domain":[-0.155,1.055],"nice":false,"zero":false}}}}
    ]},
   {"width":184.5,"height":158.5,"data":{"name":"boxes"},"transform":[{"filter":"datum.metric=='AUC−PR' && datum.run==3"}],
    "encoding":{"x":{"field":"method","type":"nominal","title":null,"scale":{"domain":["Discrete DBN","glmnet − quantile","glmnet − rlog","Lasso − quantile","Lasso − rlog","mpath","Nb","Poisson"],"paddingInner":0.1,"paddingOuter":0.15},"axis":{"labels":false,"ticks":false,"domain":false,"grid":true,"gridColor":"#FFFFFF","gridWidth":1.8,"bandPosition":0.5}}},
    "layer":[
     {"mark":{"type":"rule","color":"#333333","strokeWidth":1.2},"encoding":{"y":{"field":"lo","type":"quantitative","title":null,"scale":{"domain":[-0.155,1.055],"nice":false,"zero":false},"axis":{"values":[-0.125,0,0.125,0.25,0.375,0.5,0.625,0.75,0.875,1],"labels":false,"ticks":false,"domain":false,"grid":true,"gridColor":"#FFFFFF","gridWidth":{"condition":{"test":"abs(datum.value*4-round(datum.value*4))>0.01","value":0.9},"value":1.8}}},"y2":{"field":"hi"}}},
     {"mark":{"type":"bar","stroke":"#333333","strokeWidth":1.8},"encoding":{"y":{"field":"q1","type":"quantitative","title":null,"scale":{"domain":[-0.155,1.055],"nice":false,"zero":false}},"y2":{"field":"q3"},"fill":{"field":"method","type":"nominal","legend":null,"scale":{"domain":["Discrete DBN","glmnet − quantile","glmnet − rlog","Lasso − quantile","Lasso − rlog","mpath","Nb","Poisson"],"range":["#8DD3C7","#FFFFB3","#BEBADA","#FB8072","#80B1D3","#FDB462","#B3DE69","#FCCDE5"]}}}},
     {"mark":{"type":"tick","color":"#333333","thickness":3,"opacity":1},"encoding":{"y":{"field":"med","type":"quantitative","title":null,"scale":{"domain":[-0.155,1.055],"nice":false,"zero":false}},"size":{"value":20}}},
     {"data":{"name":"outliers"},"transform":[{"filter":"datum.metric=='AUC−PR' && datum.run==3"}],"mark":{"type":"point","filled":true,"color":"#333333","opacity":1,"size":45},"encoding":{"y":{"field":"value","type":"quantitative","title":null,"scale":{"domain":[-0.155,1.055],"nice":false,"zero":false}}}}
    ]},
   {"width":184.5,"height":158.5,"data":{"name":"boxes"},"transform":[{"filter":"datum.metric=='AUC−PR' && datum.run==4"}],
    "encoding":{"x":{"field":"method","type":"nominal","title":null,"scale":{"domain":["Discrete DBN","glmnet − quantile","glmnet − rlog","Lasso − quantile","Lasso − rlog","mpath","Nb","Poisson"],"paddingInner":0.1,"paddingOuter":0.15},"axis":{"labels":false,"ticks":false,"domain":false,"grid":true,"gridColor":"#FFFFFF","gridWidth":1.8,"bandPosition":0.5}}},
    "layer":[
     {"mark":{"type":"rule","color":"#333333","strokeWidth":1.2},"encoding":{"y":{"field":"lo","type":"quantitative","title":null,"scale":{"domain":[-0.155,1.055],"nice":false,"zero":false},"axis":{"values":[-0.125,0,0.125,0.25,0.375,0.5,0.625,0.75,0.875,1],"labels":false,"ticks":false,"domain":false,"grid":true,"gridColor":"#FFFFFF","gridWidth":{"condition":{"test":"abs(datum.value*4-round(datum.value*4))>0.01","value":0.9},"value":1.8}}},"y2":{"field":"hi"}}},
     {"mark":{"type":"bar","stroke":"#333333","strokeWidth":1.8},"encoding":{"y":{"field":"q1","type":"quantitative","title":null,"scale":{"domain":[-0.155,1.055],"nice":false,"zero":false}},"y2":{"field":"q3"},"fill":{"field":"method","type":"nominal","legend":null,"scale":{"domain":["Discrete DBN","glmnet − quantile","glmnet − rlog","Lasso − quantile","Lasso − rlog","mpath","Nb","Poisson"],"range":["#8DD3C7","#FFFFB3","#BEBADA","#FB8072","#80B1D3","#FDB462","#B3DE69","#FCCDE5"]}}}},
     {"mark":{"type":"tick","color":"#333333","thickness":3,"opacity":1},"encoding":{"y":{"field":"med","type":"quantitative","title":null,"scale":{"domain":[-0.155,1.055],"nice":false,"zero":false}},"size":{"value":20}}},
     {"data":{"name":"outliers"},"transform":[{"filter":"datum.metric=='AUC−PR' && datum.run==4"}],"mark":{"type":"point","filled":true,"color":"#333333","opacity":1,"size":45},"encoding":{"y":{"field":"value","type":"quantitative","title":null,"scale":{"domain":[-0.155,1.055],"nice":false,"zero":false}}}}
    ]},
   {"width":184.5,"height":158.5,"data":{"name":"boxes"},"transform":[{"filter":"datum.metric=='AUC−PR' && datum.run==5"}],
    "encoding":{"x":{"field":"method","type":"nominal","title":"Method","scale":{"domain":["Discrete DBN","glmnet − quantile","glmnet − rlog","Lasso − quantile","Lasso − rlog","mpath","Nb","Poisson"],"paddingInner":0.1,"paddingOuter":0.15},"axis":{"labelAngle":270,"labelAlign":"right","labelBaseline":"middle","labelPadding":2,"labelColor":"#4D4D4D","labelFontSize":13.7,"labelOverlap":false,"labelLimit":300,"ticks":true,"tickSize":4.3,"tickWidth":1.1,"tickColor":"#333333","domain":false,"grid":true,"gridColor":"#FFFFFF","gridWidth":1.8,"bandPosition":0.5,"titleFontSize":17,"titleFontWeight":"normal","titleColor":"#000000","titlePadding":4}}},
    "layer":[
     {"mark":{"type":"rule","color":"#333333","strokeWidth":1.2},"encoding":{"y":{"field":"lo","type":"quantitative","title":null,"scale":{"domain":[-0.155,1.055],"nice":false,"zero":false},"axis":{"values":[-0.125,0,0.125,0.25,0.375,0.5,0.625,0.75,0.875,1],"labels":false,"ticks":false,"domain":false,"grid":true,"gridColor":"#FFFFFF","gridWidth":{"condition":{"test":"abs(datum.value*4-round(datum.value*4))>0.01","value":0.9},"value":1.8}}},"y2":{"field":"hi"}}},
     {"mark":{"type":"bar","stroke":"#333333","strokeWidth":1.8},"encoding":{"y":{"field":"q1","type":"quantitative","title":null,"scale":{"domain":[-0.155,1.055],"nice":false,"zero":false}},"y2":{"field":"q3"},"fill":{"field":"method","type":"nominal","legend":null,"scale":{"domain":["Discrete DBN","glmnet − quantile","glmnet − rlog","Lasso − quantile","Lasso − rlog","mpath","Nb","Poisson"],"range":["#8DD3C7","#FFFFB3","#BEBADA","#FB8072","#80B1D3","#FDB462","#B3DE69","#FCCDE5"]}}}},
     {"mark":{"type":"tick","color":"#333333","thickness":3,"opacity":1},"encoding":{"y":{"field":"med","type":"quantitative","title":null,"scale":{"domain":[-0.155,1.055],"nice":false,"zero":false}},"size":{"value":20}}},
     {"data":{"name":"outliers"},"transform":[{"filter":"datum.metric=='AUC−PR' && datum.run==5"}],"mark":{"type":"point","filled":true,"color":"#333333","opacity":1,"size":45},"encoding":{"y":{"field":"value","type":"quantitative","title":null,"scale":{"domain":[-0.155,1.055],"nice":false,"zero":false}}}}
    ]}
  ]}
 ]},
 {"spacing":0,"hconcat":[
  {"spacing":0,"vconcat":[
   {"width":184.5,"height":27,"view":{"fill":"#D9D9D9","stroke":null},"data":{"values":[{"label":"MCC"}]},"mark":{"type":"text","fontSize":13.7,"color":"#1A1A1A"},"encoding":{"text":{"field":"label","type":"nominal"}}},
   {"spacing":9,"vconcat":[
    {"width":184.5,"height":158.5,"data":{"name":"boxes"},"transform":[{"filter":"datum.metric=='MCC' && datum.run==1"}],
     "encoding":{"x":{"field":"method","type":"nominal","title":null,"scale":{"domain":["Discrete DBN","glmnet − quantile","glmnet − rlog","Lasso − quantile","Lasso − rlog","mpath","Nb","Poisson"],"paddingInner":0.1,"paddingOuter":0.15},"axis":{"labels":false,"ticks":false,"domain":false,"grid":true,"gridColor":"#FFFFFF","gridWidth":1.8,"bandPosition":0.5}}},
     "layer":[
      {"mark":{"type":"rule","color":"#333333","strokeWidth":1.2},"encoding":{"y":{"field":"lo","type":"quantitative","title":null,"scale":{"domain":[-0.155,1.055],"nice":false,"zero":false},"axis":{"values":[-0.125,0,0.125,0.25,0.375,0.5,0.625,0.75,0.875,1],"labels":false,"ticks":false,"domain":false,"grid":true,"gridColor":"#FFFFFF","gridWidth":{"condition":{"test":"abs(datum.value*4-round(datum.value*4))>0.01","value":0.9},"value":1.8}}},"y2":{"field":"hi"}}},
      {"mark":{"type":"bar","stroke":"#333333","strokeWidth":1.8},"encoding":{"y":{"field":"q1","type":"quantitative","title":null,"scale":{"domain":[-0.155,1.055],"nice":false,"zero":false}},"y2":{"field":"q3"},"fill":{"field":"method","type":"nominal","legend":null,"scale":{"domain":["Discrete DBN","glmnet − quantile","glmnet − rlog","Lasso − quantile","Lasso − rlog","mpath","Nb","Poisson"],"range":["#8DD3C7","#FFFFB3","#BEBADA","#FB8072","#80B1D3","#FDB462","#B3DE69","#FCCDE5"]}}}},
      {"mark":{"type":"tick","color":"#333333","thickness":3,"opacity":1},"encoding":{"y":{"field":"med","type":"quantitative","title":null,"scale":{"domain":[-0.155,1.055],"nice":false,"zero":false}},"size":{"value":20}}},
      {"data":{"name":"outliers"},"transform":[{"filter":"datum.metric=='MCC' && datum.run==1"}],"mark":{"type":"point","filled":true,"color":"#333333","opacity":1,"size":45},"encoding":{"y":{"field":"value","type":"quantitative","title":null,"scale":{"domain":[-0.155,1.055],"nice":false,"zero":false}}}}
     ]},
    {"width":184.5,"height":158.5,"data":{"name":"boxes"},"transform":[{"filter":"datum.metric=='MCC' && datum.run==2"}],
     "encoding":{"x":{"field":"method","type":"nominal","title":null,"scale":{"domain":["Discrete DBN","glmnet − quantile","glmnet − rlog","Lasso − quantile","Lasso − rlog","mpath","Nb","Poisson"],"paddingInner":0.1,"paddingOuter":0.15},"axis":{"labels":false,"ticks":false,"domain":false,"grid":true,"gridColor":"#FFFFFF","gridWidth":1.8,"bandPosition":0.5}}},
     "layer":[
      {"mark":{"type":"rule","color":"#333333","strokeWidth":1.2},"encoding":{"y":{"field":"lo","type":"quantitative","title":null,"scale":{"domain":[-0.155,1.055],"nice":false,"zero":false},"axis":{"values":[-0.125,0,0.125,0.25,0.375,0.5,0.625,0.75,0.875,1],"labels":false,"ticks":false,"domain":false,"grid":true,"gridColor":"#FFFFFF","gridWidth":{"condition":{"test":"abs(datum.value*4-round(datum.value*4))>0.01","value":0.9},"value":1.8}}},"y2":{"field":"hi"}}},
      {"mark":{"type":"bar","stroke":"#333333","strokeWidth":1.8},"encoding":{"y":{"field":"q1","type":"quantitative","title":null,"scale":{"domain":[-0.155,1.055],"nice":false,"zero":false}},"y2":{"field":"q3"},"fill":{"field":"method","type":"nominal","legend":null,"scale":{"domain":["Discrete DBN","glmnet − quantile","glmnet − rlog","Lasso − quantile","Lasso − rlog","mpath","Nb","Poisson"],"range":["#8DD3C7","#FFFFB3","#BEBADA","#FB8072","#80B1D3","#FDB462","#B3DE69","#FCCDE5"]}}}},
      {"mark":{"type":"tick","color":"#333333","thickness":3,"opacity":1},"encoding":{"y":{"field":"med","type":"quantitative","title":null,"scale":{"domain":[-0.155,1.055],"nice":false,"zero":false}},"size":{"value":20}}},
      {"data":{"name":"outliers"},"transform":[{"filter":"datum.metric=='MCC' && datum.run==2"}],"mark":{"type":"point","filled":true,"color":"#333333","opacity":1,"size":45},"encoding":{"y":{"field":"value","type":"quantitative","title":null,"scale":{"domain":[-0.155,1.055],"nice":false,"zero":false}}}}
     ]},
    {"width":184.5,"height":158.5,"data":{"name":"boxes"},"transform":[{"filter":"datum.metric=='MCC' && datum.run==3"}],
     "encoding":{"x":{"field":"method","type":"nominal","title":null,"scale":{"domain":["Discrete DBN","glmnet − quantile","glmnet − rlog","Lasso − quantile","Lasso − rlog","mpath","Nb","Poisson"],"paddingInner":0.1,"paddingOuter":0.15},"axis":{"labels":false,"ticks":false,"domain":false,"grid":true,"gridColor":"#FFFFFF","gridWidth":1.8,"bandPosition":0.5}}},
     "layer":[
      {"mark":{"type":"rule","color":"#333333","strokeWidth":1.2},"encoding":{"y":{"field":"lo","type":"quantitative","title":null,"scale":{"domain":[-0.155,1.055],"nice":false,"zero":false},"axis":{"values":[-0.125,0,0.125,0.25,0.375,0.5,0.625,0.75,0.875,1],"labels":false,"ticks":false,"domain":false,"grid":true,"gridColor":"#FFFFFF","gridWidth":{"condition":{"test":"abs(datum.value*4-round(datum.value*4))>0.01","value":0.9},"value":1.8}}},"y2":{"field":"hi"}}},
      {"mark":{"type":"bar","stroke":"#333333","strokeWidth":1.8},"encoding":{"y":{"field":"q1","type":"quantitative","title":null,"scale":{"domain":[-0.155,1.055],"nice":false,"zero":false}},"y2":{"field":"q3"},"fill":{"field":"method","type":"nominal","legend":null,"scale":{"domain":["Discrete DBN","glmnet − quantile","glmnet − rlog","Lasso − quantile","Lasso − rlog","mpath","Nb","Poisson"],"range":["#8DD3C7","#FFFFB3","#BEBADA","#FB8072","#80B1D3","#FDB462","#B3DE69","#FCCDE5"]}}}},
      {"mark":{"type":"tick","color":"#333333","thickness":3,"opacity":1},"encoding":{"y":{"field":"med","type":"quantitative","title":null,"scale":{"domain":[-0.155,1.055],"nice":false,"zero":false}},"size":{"value":20}}},
      {"data":{"name":"outliers"},"transform":[{"filter":"datum.metric=='MCC' && datum.run==3"}],"mark":{"type":"point","filled":true,"color":"#333333","opacity":1,"size":45},"encoding":{"y":{"field":"value","type":"quantitative","title":null,"scale":{"domain":[-0.155,1.055],"nice":false,"zero":false}}}}
     ]},
    {"width":184.5,"height":158.5,"data":{"name":"boxes"},"transform":[{"filter":"datum.metric=='MCC' && datum.run==4"}],
     "encoding":{"x":{"field":"method","type":"nominal","title":null,"scale":{"domain":["Discrete DBN","glmnet − quantile","glmnet − rlog","Lasso − quantile","Lasso − rlog","mpath","Nb","Poisson"],"paddingInner":0.1,"paddingOuter":0.15},"axis":{"labels":false,"ticks":false,"domain":false,"grid":true,"gridColor":"#FFFFFF","gridWidth":1.8,"bandPosition":0.5}}},
     "layer":[
      {"mark":{"type":"rule","color":"#333333","strokeWidth":1.2},"encoding":{"y":{"field":"lo","type":"quantitative","title":null,"scale":{"domain":[-0.155,1.055],"nice":false,"zero":false},"axis":{"values":[-0.125,0,0.125,0.25,0.375,0.5,0.625,0.75,0.875,1],"labels":false,"ticks":false,"domain":false,"grid":true,"gridColor":"#FFFFFF","gridWidth":{"condition":{"test":"abs(datum.value*4-round(datum.value*4))>0.01","value":0.9},"value":1.8}}},"y2":{"field":"hi"}}},
      {"mark":{"type":"bar","stroke":"#333333","strokeWidth":1.8},"encoding":{"y":{"field":"q1","type":"quantitative","title":null,"scale":{"domain":[-0.155,1.055],"nice":false,"zero":false}},"y2":{"field":"q3"},"fill":{"field":"method","type":"nominal","legend":null,"scale":{"domain":["Discrete DBN","glmnet − quantile","glmnet − rlog","Lasso − quantile","Lasso − rlog","mpath","Nb","Poisson"],"range":["#8DD3C7","#FFFFB3","#BEBADA","#FB8072","#80B1D3","#FDB462","#B3DE69","#FCCDE5"]}}}},
      {"mark":{"type":"tick","color":"#333333","thickness":3,"opacity":1},"encoding":{"y":{"field":"med","type":"quantitative","title":null,"scale":{"domain":[-0.155,1.055],"nice":false,"zero":false}},"size":{"value":20}}},
      {"data":{"name":"outliers"},"transform":[{"filter":"datum.metric=='MCC' && datum.run==4"}],"mark":{"type":"point","filled":true,"color":"#333333","opacity":1,"size":45},"encoding":{"y":{"field":"value","type":"quantitative","title":null,"scale":{"domain":[-0.155,1.055],"nice":false,"zero":false}}}}
     ]},
    {"width":184.5,"height":158.5,"data":{"name":"boxes"},"transform":[{"filter":"datum.metric=='MCC' && datum.run==5"}],
     "encoding":{"x":{"field":"method","type":"nominal","title":null,"scale":{"domain":["Discrete DBN","glmnet − quantile","glmnet − rlog","Lasso − quantile","Lasso − rlog","mpath","Nb","Poisson"],"paddingInner":0.1,"paddingOuter":0.15},"axis":{"labelAngle":270,"labelAlign":"right","labelBaseline":"middle","labelPadding":2,"labelColor":"#4D4D4D","labelFontSize":13.7,"labelOverlap":false,"labelLimit":300,"ticks":true,"tickSize":4.3,"tickWidth":1.1,"tickColor":"#333333","domain":false,"grid":true,"gridColor":"#FFFFFF","gridWidth":1.8,"bandPosition":0.5,"titleFontSize":17,"titleFontWeight":"normal","titleColor":"#000000","titlePadding":4}}},
     "layer":[
      {"mark":{"type":"rule","color":"#333333","strokeWidth":1.2},"encoding":{"y":{"field":"lo","type":"quantitative","title":null,"scale":{"domain":[-0.155,1.055],"nice":false,"zero":false},"axis":{"values":[-0.125,0,0.125,0.25,0.375,0.5,0.625,0.75,0.875,1],"labels":false,"ticks":false,"domain":false,"grid":true,"gridColor":"#FFFFFF","gridWidth":{"condition":{"test":"abs(datum.value*4-round(datum.value*4))>0.01","value":0.9},"value":1.8}}},"y2":{"field":"hi"}}},
      {"mark":{"type":"bar","stroke":"#333333","strokeWidth":1.8},"encoding":{"y":{"field":"q1","type":"quantitative","title":null,"scale":{"domain":[-0.155,1.055],"nice":false,"zero":false}},"y2":{"field":"q3"},"fill":{"field":"method","type":"nominal","legend":null,"scale":{"domain":["Discrete DBN","glmnet − quantile","glmnet − rlog","Lasso − quantile","Lasso − rlog","mpath","Nb","Poisson"],"range":["#8DD3C7","#FFFFB3","#BEBADA","#FB8072","#80B1D3","#FDB462","#B3DE69","#FCCDE5"]}}}},
      {"mark":{"type":"tick","color":"#333333","thickness":3,"opacity":1},"encoding":{"y":{"field":"med","type":"quantitative","title":null,"scale":{"domain":[-0.155,1.055],"nice":false,"zero":false}},"size":{"value":20}}},
      {"data":{"name":"outliers"},"transform":[{"filter":"datum.metric=='MCC' && datum.run==5"}],"mark":{"type":"point","filled":true,"color":"#333333","opacity":1,"size":45},"encoding":{"y":{"field":"value","type":"quantitative","title":null,"scale":{"domain":[-0.155,1.055],"nice":false,"zero":false}}}}
     ]}
   ]}
  ]},
  {"spacing":0,"vconcat":[
   {"width":27,"height":27,"view":{"fill":"#FFFFFF","stroke":null},"data":{"values":[{"label":""}]},"mark":{"type":"text"},"encoding":{"text":{"field":"label","type":"nominal"}}},
   {"spacing":9,"vconcat":[
    {"width":27,"height":158.5,"view":{"fill":"#D9D9D9","stroke":null},"data":{"values":[{"label":"1"}]},"mark":{"type":"text","fontSize":13.7,"color":"#1A1A1A","angle":90},"encoding":{"text":{"field":"label","type":"nominal"}}},
    {"width":27,"height":158.5,"view":{"fill":"#D9D9D9","stroke":null},"data":{"values":[{"label":"2"}]},"mark":{"type":"text","fontSize":13.7,"color":"#1A1A1A","angle":90},"encoding":{"text":{"field":"label","type":"nominal"}}},
    {"width":27,"height":158.5,"view":{"fill":"#D9D9D9","stroke":null},"data":{"values":[{"label":"3"}]},"mark":{"type":"text","fontSize":13.7,"color":"#1A1A1A","angle":90},"encoding":{"text":{"field":"label","type":"nominal"}}},
    {"width":27,"height":158.5,"view":{"fill":"#D9D9D9","stroke":null},"data":{"values":[{"label":"4"}]},"mark":{"type":"text","fontSize":13.7,"color":"#1A1A1A","angle":90},"encoding":{"text":{"field":"label","type":"nominal"}}},
    {"width":27,"height":158.5,"view":{"fill":"#D9D9D9","stroke":null},"data":{"values":[{"label":"5"}]},"mark":{"type":"text","fontSize":13.7,"color":"#1A1A1A","angle":90},"encoding":{"text":{"field":"label","type":"nominal"}}}
   ]}
  ]}
 ]}
]}
]
}
